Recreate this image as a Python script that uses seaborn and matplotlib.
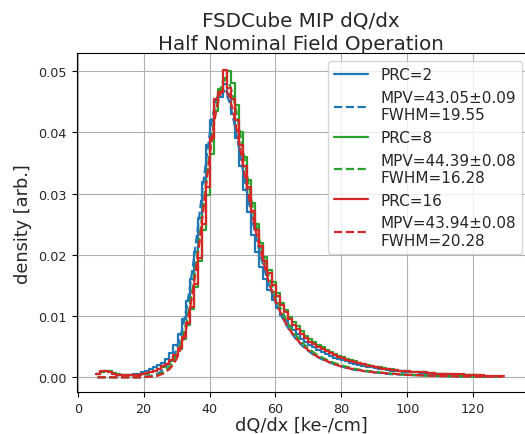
import numpy as np
import pandas as pd
import matplotlib
matplotlib.use("Agg")
import matplotlib.pyplot as plt
import seaborn as sns

# ---------------- data ----------------
labels_prc = ["PRC=2", "PRC=8", "PRC=16"]
fit_labels = ["MPV=43.05±0.09\nFWHM=19.55",
              "MPV=44.39±0.08\nFWHM=16.28",
              "MPV=43.94±0.08\nFWHM=20.28"]
colors = ["tab:blue", "tab:green", "tab:red"]

hist_start = 5.5
bin_width = 1.24

hist_prc2 = [0.0006, 0.0009, 0.0010, 0.0008, 0.0006, 0.0004, 0.0004, 0.0004, 0.0004, 0.0005,
             0.0006, 0.0008, 0.0010, 0.0013, 0.0016, 0.0020, 0.0024, 0.0030, 0.0040, 0.0052,
             0.0070, 0.0095, 0.0125, 0.0160, 0.0205, 0.0260, 0.0318, 0.0380, 0.0420, 0.0452,
             0.0458, 0.0478, 0.0462, 0.0430, 0.0390, 0.0345, 0.0305, 0.0270, 0.0232, 0.0205,
             0.0180, 0.0160, 0.0142, 0.0126, 0.0113, 0.0102, 0.0092, 0.0084, 0.0077, 0.0070,
             0.0063, 0.0058, 0.0053, 0.0049, 0.0045, 0.0041, 0.0038, 0.0035, 0.0032, 0.0030,
             0.0028, 0.0026, 0.0024, 0.0022, 0.0020, 0.0019, 0.0017, 0.0016, 0.0015, 0.0014,
             0.0013, 0.0012, 0.0011, 0.0011, 0.0010, 0.0009, 0.0009, 0.0008, 0.0008, 0.0007,
             0.0007, 0.0006, 0.0006, 0.0006, 0.0005, 0.0005, 0.0004, 0.0004, 0.0004, 0.0004,
             0.0003, 0.0003, 0.0003, 0.0002, 0.0002, 0.0002]

hist_prc8 = [0.0005, 0.0009, 0.0011, 0.0010, 0.0007, 0.0005, 0.0004, 0.0003, 0.0003, 0.0003,
             0.0004, 0.0005, 0.0006, 0.0008, 0.0010, 0.0013, 0.0017, 0.0021, 0.0027, 0.0034,
             0.0046, 0.0062, 0.0085, 0.0112, 0.0148, 0.0190, 0.0240, 0.0298, 0.0365, 0.0435,
             0.0470, 0.0488, 0.0500, 0.0480, 0.0445, 0.0400, 0.0360, 0.0322, 0.0285, 0.0250,
             0.0220, 0.0196, 0.0175, 0.0155, 0.0138, 0.0122, 0.0110, 0.0099, 0.0090, 0.0083,
             0.0075, 0.0068, 0.0062, 0.0057, 0.0053, 0.0049, 0.0045, 0.0042, 0.0038, 0.0035,
             0.0033, 0.0030, 0.0028, 0.0026, 0.0024, 0.0022, 0.0020, 0.0019, 0.0017, 0.0016,
             0.0015, 0.0014, 0.0013, 0.0012, 0.0011, 0.0011, 0.0010, 0.0009, 0.0009, 0.0008,
             0.0008, 0.0007, 0.0007, 0.0006, 0.0006, 0.0005, 0.0005, 0.0005, 0.0004, 0.0004,
             0.0004, 0.0003, 0.0003, 0.0003, 0.0002, 0.0002]

hist_prc16 = [0.0006, 0.0010, 0.0011, 0.0009, 0.0006, 0.0004, 0.0003, 0.0003, 0.0003, 0.0004,
              0.0004, 0.0006, 0.0007, 0.0008, 0.0011, 0.0014, 0.0018, 0.0022, 0.0028, 0.0036,
              0.0048, 0.0065, 0.0088, 0.0115, 0.0152, 0.0195, 0.0250, 0.0310, 0.0390, 0.0455,
              0.0466, 0.0502, 0.0472, 0.0455, 0.0420, 0.0380, 0.0345, 0.0310, 0.0272, 0.0240,
              0.0215, 0.0190, 0.0170, 0.0150, 0.0132, 0.0118, 0.0106, 0.0095, 0.0086, 0.0079,
              0.0071, 0.0064, 0.0058, 0.0054, 0.0049, 0.0046, 0.0043, 0.0039, 0.0036, 0.0033,
              0.0031, 0.0029, 0.0027, 0.0025, 0.0023, 0.0021, 0.0019, 0.0018, 0.0017, 0.0015,
              0.0014, 0.0013, 0.0012, 0.0012, 0.0011, 0.0010, 0.0010, 0.0009, 0.0009, 0.0008,
              0.0008, 0.0007, 0.0007, 0.0006, 0.0006, 0.0006, 0.0005, 0.0005, 0.0006, 0.0005,
              0.0004, 0.0004, 0.0003, 0.0003, 0.0003, 0.0002, 0.0002, 0.0002, 0.0002, 0.0002]

fit_x = [6, 10, 14, 18, 20, 22, 24, 26, 28, 29, 30, 31, 32, 33, 34, 35, 36, 37, 38, 39,
         40, 41, 42, 43, 44, 45, 46, 47, 48, 49, 50, 51, 52, 53, 54, 55, 56, 58, 60, 62,
         64, 66, 68, 70, 72, 75, 78, 81, 84, 87, 90, 95, 100, 105, 110, 115, 120, 125, 129]

fit_prc2 = [0.0, 0.0, 0.0, 0.00001, 0.00005, 0.0002, 0.0005, 0.0012, 0.0025, 0.0034,
            0.0045, 0.0062, 0.0085, 0.0112, 0.0145, 0.0183, 0.0225, 0.0268, 0.0312, 0.0355,
            0.0395, 0.0428, 0.0452, 0.0466, 0.0470, 0.0464, 0.0450, 0.0428, 0.0402, 0.0373,
            0.0343, 0.0313, 0.0284, 0.0257, 0.0232, 0.0209, 0.0188, 0.0152, 0.0122, 0.0098,
            0.0079, 0.0064, 0.0052, 0.0043, 0.0035, 0.0027, 0.0021, 0.0016, 0.0012, 0.0010,
            0.0008, 0.0005, 0.0004, 0.0003, 0.0002, 0.00015, 0.0001, 0.0001, 0.0001]

fit_prc8 = [0.0, 0.0, 0.0, 0.0, 0.00003, 0.0001, 0.0003, 0.0008, 0.0018, 0.0026,
            0.0036, 0.0050, 0.0068, 0.0090, 0.0118, 0.0150, 0.0188, 0.0230, 0.0275, 0.0320,
            0.0365, 0.0405, 0.0440, 0.0466, 0.0482, 0.0487, 0.0480, 0.0463, 0.0438, 0.0408,
            0.0376, 0.0343, 0.0311, 0.0281, 0.0253, 0.0227, 0.0204, 0.0165, 0.0133, 0.0107,
            0.0086, 0.0070, 0.0057, 0.0047, 0.0039, 0.0030, 0.0023, 0.0018, 0.0014, 0.0011,
            0.0009, 0.0006, 0.0004, 0.0003, 0.0002, 0.00015, 0.0001, 0.0001, 0.0001]

fit_prc16 = [0.0, 0.0, 0.0, 0.0, 0.00002, 0.00008, 0.0002, 0.0006, 0.0014, 0.0021,
             0.0030, 0.0043, 0.0060, 0.0082, 0.0110, 0.0142, 0.0180, 0.0222, 0.0268, 0.0315,
             0.0360, 0.0400, 0.0435, 0.0458, 0.0470, 0.0470, 0.0458, 0.0438, 0.0412, 0.0383,
             0.0352, 0.0322, 0.0293, 0.0265, 0.0240, 0.0217, 0.0196, 0.0155, 0.0125, 0.0100,
             0.0080, 0.0065, 0.0053, 0.0044, 0.0036, 0.0028, 0.0021, 0.0016, 0.0013, 0.0010,
             0.0008, 0.0006, 0.0004, 0.0003, 0.0002, 0.00015, 0.0001, 0.0001, 0.0001]

hists = [hist_prc2, hist_prc8, hist_prc16]
fits = [fit_prc2, fit_prc8, fit_prc16]

# ---------------- plot ----------------
sns.set_style("ticks")
plt.rcParams["font.family"] = ["DejaVu Sans"]

fig = plt.figure(figsize=(5.25, 4.35), dpi=100)
ax = fig.add_axes([0.1461, 0.0959, 0.855, 0.780])

for lab, flab, col, h, f in zip(labels_prc, fit_labels, colors, hists, fits):
    h = np.asarray(h, dtype=float)
    edges = hist_start + bin_width * np.arange(len(h) + 1)
    centers = 0.5 * (edges[:-1] + edges[1:])
    hdf = pd.DataFrame({"x": centers, "w": h})
    sns.histplot(data=hdf, x="x", weights="w", bins=list(edges), element="step",
                 fill=False, color=col, linewidth=1.6, label=lab, ax=ax)
    df = pd.DataFrame({"x": fit_x, "y": f})
    sns.lineplot(data=df, x="x", y="y", color=col, linestyle="--", linewidth=1.6,
                 label=flab, ax=ax, legend=False)

ax.set_xlim(-0.3, 135.9)
ax.set_ylim(-0.00245, 0.05294)
ax.set_xticks([0, 20, 40, 60, 80, 100, 120])
ax.set_yticks([0.0, 0.01, 0.02, 0.03, 0.04, 0.05])
ax.set_yticklabels(["0.00", "0.01", "0.02", "0.03", "0.04", "0.05"])
ax.tick_params(labelsize=9.2, length=3.5, width=0.8, color="black")
ax.grid(True, color="#b0b0b0", linewidth=0.8)
for s in ax.spines.values():
    s.set_color("black")
    s.set_linewidth(0.8)

ax.set_xlabel("dQ/dx [ke-/cm]", fontsize=12.8, labelpad=0.5)
ax.set_ylabel("density [arb.]", fontsize=12.8, labelpad=5)
ax.set_title("FSDCube MIP dQ/dx\nHalf Nominal Field Operation", fontsize=14.3, pad=2.4,
             linespacing=1.3)

ax.legend(loc="upper right", bbox_to_anchor=(0.992, 0.976), borderaxespad=0,
          fontsize=11, handlelength=2.2, framealpha=0.8, edgecolor="#cccccc",
          fancybox=True)

fig.savefig("out.png", dpi=100)
